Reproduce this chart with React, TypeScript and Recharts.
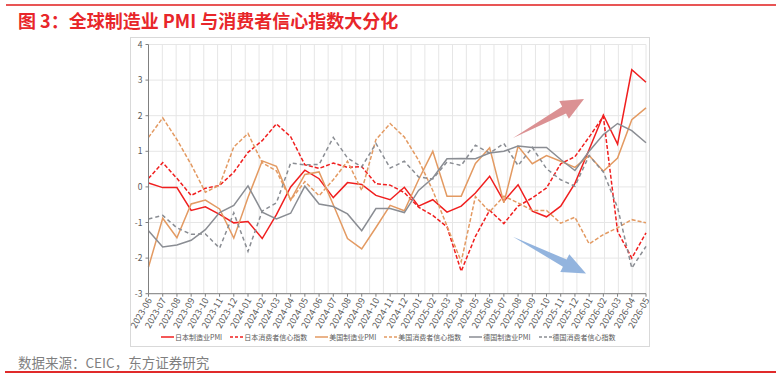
import { LineChart, Line, XAxis, YAxis, CartesianGrid } from 'recharts'

const MONTHS = [
  '2023-06', '2023-07', '2023-08', '2023-09', '2023-10', '2023-11', '2023-12',
  '2024-01', '2024-02', '2024-03', '2024-04', '2024-05', '2024-06', '2024-07',
  '2024-08', '2024-09', '2024-10', '2024-11', '2024-12', '2025-01', '2025-02',
  '2025-03', '2025-04', '2025-05', '2025-06', '2025-07', '2025-08', '2025-09',
  '2025-10', '2025-11', '2025-12', '2026-01', '2026-02', '2026-03', '2026-04',
  '2026-05',
]

// standardised readings, one value per month
const JP_PMI = [
  0.11, -0.02, -0.02, -0.66, -0.56, -0.77, -1.01, -0.97, -1.45, -0.78, 0.0, 0.47,
  0.23, -0.3, 0.12, 0.07, -0.24, -0.36, -0.01, -0.54, -0.36, -0.71, -0.54, -0.17,
  0.3, -0.4, 0.06, -0.68, -0.84, -0.54, 0.1, 1.05, 2.02, 1.2, 3.29, 2.94,
]
const JP_CONF = [
  0.24, 0.68, 0.24, -0.24, -0.04, 0.04, 0.41, 0.97, 1.3, 1.77, 1.41, 0.62,
  0.52, 0.67, 0.55, 0.57, 0.09, 0.05, -0.16, -0.57, -0.8, -1.12, -2.37, -1.39,
  -0.66, -1.03, -0.54, -0.31, -0.03, 0.65, 0.85, 1.4, 1.98, -1.25, -2.0, -1.29,
]
const US_PMI = [
  -2.25, -0.88, -1.43, -0.48, -0.37, -0.62, -1.44, -0.3, 0.73, 0.58, -0.37, 0.35,
  0.42, -0.5, -1.45, -1.74, -1.14, -0.52, -0.67, 0.2, 1.0, -0.26, -0.26, 0.66,
  1.1, -0.45, 1.14, 0.65, 0.88, 0.72, 0.55, 0.88, 0.44, 0.81, 1.89, 2.22,
]
const US_CONF = [
  1.39, 1.94, 1.33, 0.63, -0.15, 0.05, 1.12, 1.5, 0.68, 0.45, -0.37, 0.15,
  -0.25, 0.2, 0.72, -0.1, 1.33, 1.78, 1.4, 0.75, -0.1, -1.1, -2.1, -0.27,
  -0.7, -0.26, -0.45, -0.66, -0.66, -1.02, -0.85, -1.6, -1.34, -1.15, -0.92, -1.01,
]
const DE_PMI = [
  -1.23, -1.69, -1.63, -1.5, -1.2, -0.72, -0.52, 0.03, -0.71, -0.9, -0.74, 0.02,
  -0.48, -0.55, -0.76, -1.23, -0.61, -0.61, -0.72, -0.1, 0.25, 0.79, 0.8, 0.79,
  0.95, 1.0, 1.15, 1.11, 1.11, 0.77, 0.46, 1.0, 1.47, 1.78, 1.58, 1.24,
]
const DE_CONF = [
  -0.9, -0.8, -1.15, -1.33, -1.32, -1.72, -0.73, -1.81, -0.68, -0.45, 0.67, 0.62,
  0.63, 1.39, 0.81, 0.56, 1.22, 0.53, 0.72, 0.28, 0.22, 0.7, 0.6, 1.17,
  0.95, 1.22, 0.6, 1.11, 0.51, 0.2, 0.02, 0.88, 0.42, -0.58, -2.28, -1.67,
]

const Y_TICKS = [-3, -2, -1, 0, 1, 2, 3, 4]

const RED = '#f01f1f'
const ORANGE = '#e39a62'
const GRAY = '#8a8d93'

const SERIES = [
  { key: 'jpPmi', name: '日本制造业PMI', color: RED, dash: undefined, values: JP_PMI },
  { key: 'jpConf', name: '日本消费者信心指数', color: RED, dash: '4 2', values: JP_CONF },
  { key: 'usPmi', name: '美国制造业PMI', color: ORANGE, dash: undefined, values: US_PMI },
  { key: 'usConf', name: '美国消费者信心指数', color: ORANGE, dash: '4 2', values: US_CONF },
  { key: 'dePmi', name: '德国制造业PMI', color: GRAY, dash: undefined, values: DE_PMI },
  { key: 'deConf', name: '德国消费者信心指数', color: GRAY, dash: '4 3', values: DE_CONF },
]

const chartData = MONTHS.map((month, i) => {
  const row: Record<string, string | number> = { month }
  SERIES.forEach((s) => { row[s.key] = s.values[i] })
  return row
})

const FONT = '"Noto Sans CJK SC", "Noto Sans", sans-serif'

// vertical grid sits on the category boundaries, not on the tick centres
const boundaryLines = ({ offset }: any) =>
  Array.from({ length: MONTHS.length }, (_, k) => offset.left + (offset.width * (k + 1)) / MONTHS.length)

function MonthTick({ x, y, payload }: any) {
  return (
    <g transform={`translate(${x + 1},${y})`}>
      <text transform="rotate(-60)" textAnchor="end" dy="0.35em" fontSize={9} fill="#595959" fontFamily={FONT}>
        {payload.value}
      </text>
    </g>
  )
}

function LegendRow() {
  return (
    <div
      style={{
        position: 'absolute',
        left: 161,
        top: 332,
        display: 'flex',
        gap: 8,
        alignItems: 'center',
        fontFamily: FONT,
        fontSize: 7,
        color: '#595959',
        whiteSpace: 'nowrap',
      }}
    >
      {SERIES.map((s) => (
        <div key={s.key} style={{ display: 'flex', alignItems: 'center', gap: 1 }}>
          <svg width={13} height={6}>
            <line x1={0} y1={3} x2={13} y2={3} stroke={s.color} strokeWidth={1.5} strokeDasharray={s.dash ? '3 2' : undefined} />
          </svg>
          <span>{s.name}</span>
        </div>
      ))}
    </div>
  )
}

function Arrows() {
  return (
    <svg width={782} height={379} style={{ position: 'absolute', left: 0, top: 0, pointerEvents: 'none' }}>
      <polygon
        points="513,138 562.2,106.4 559.3,101.1 584,99 568.9,118.7 566,113.4"
        fill="#d98b8d"
        opacity={0.95}
      />
      <polygon
        points="513,236.7 566.6,259.5 569.3,254.2 586,273.5 560.3,272 563,266.7"
        fill="#8db0dc"
        opacity={0.95}
      />
    </svg>
  )
}

export default function App() {
  return (
    <div style={{ position: 'fixed', left: 0, top: 0, width: 782, height: 379, background: '#fff', fontFamily: FONT }}>
      <div style={{ position: 'absolute', left: 6, top: 4, width: 770, height: 2, background: '#e85555' }} />
      <div
        style={{
          position: 'absolute',
          left: 18,
          top: 8,
          fontSize: 18,
          fontWeight: 700,
          color: '#e8262a',
          lineHeight: '24px',
          whiteSpace: 'nowrap',
        }}
      >
        图 3：全球制造业 PMI 与消费者信心指数大分化
      </div>

      {/* chart area frame */}
      <div
        style={{
          position: 'absolute',
          left: 130,
          top: 37,
          width: 520,
          height: 310,
          border: '1px solid #d9d9d9',
          boxSizing: 'border-box',
        }}
      />

      <div style={{ position: 'absolute', left: 100, top: 38 }}>
        <LineChart
          width={560}
          height={308}
          data={chartData}
          margin={{ top: 6.5, right: 14, left: 34.5, bottom: 12.3 }}
        >
          <CartesianGrid stroke="#e6e6e6" verticalCoordinatesGenerator={boundaryLines} />
          <XAxis
            dataKey="month"
            interval={0}
            height={40}
            tick={<MonthTick />}
            tickSize={3}
            tickMargin={2}
            stroke="#808080"
          />
          <YAxis
            domain={[-3, 4]}
            ticks={Y_TICKS}
            width={14}
            tickSize={3}
            tickMargin={3}
            stroke="#808080"
            tick={{ fontSize: 8.5, fill: '#595959', fontFamily: FONT }}
          />
          {SERIES.map((s) => (
            <Line
              key={s.key}
              dataKey={s.key}
              name={s.name}
              type="linear"
              stroke={s.color}
              strokeWidth={1.5}
              strokeDasharray={s.dash}
              dot={false}
              activeDot={false}
              isAnimationActive={false}
            />
          ))}
        </LineChart>
      </div>

      <LegendRow />
      <Arrows />

      <div
        style={{
          position: 'absolute',
          left: 18,
          top: 353,
          fontSize: 13.5,
          color: '#7f7f7f',
          lineHeight: '18px',
          whiteSpace: 'nowrap',
        }}
      >
        数据来源：CEIC，东方证券研究
      </div>
      <div style={{ position: 'absolute', left: 5, top: 371, width: 771, height: 2, background: '#e02a2a' }} />
    </div>
  )
}
